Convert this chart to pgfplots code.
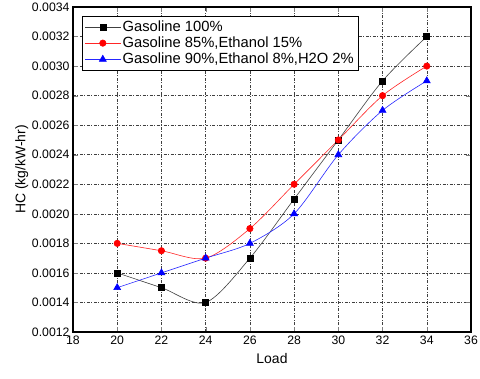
\documentclass[border=0pt]{standalone}
\usepackage{fontspec}
\setmainfont{Liberation Sans}
\usepackage{pgfplots}
\pgfplotsset{compat=1.18}

\begin{document}
\begin{tikzpicture}
\useasboundingbox (-73bp,-47bp) rectangle (407bp,332bp);
\begin{axis}[
  scale only axis,
  width=398bp, height=325bp,
  xmin=18, xmax=36, ymin=0.0012, ymax=0.0034,
  xtick={18,20,...,36},
  ytick={0.0012,0.0014,...,0.00341},
  scaled y ticks=false,
  yticklabel style={/pgf/number format/.cd,fixed,fixed zerofill,precision=4},
  /pgf/number format/assume math mode=true,
  tick label style={font=\fontsize{12.3}{14}\selectfont},
  label style={font=\fontsize{14}{16}\selectfont},
  xlabel={Load}, ylabel={HC (kg/kW-hr)},
  xlabel style={yshift=-2bp},
  ylabel style={yshift=-3bp},
  tick align=inside, major tick length=5bp,
  axis line style={line width=1.2pt},
  grid=major,
  major grid style={black!75, line width=0.5pt, dash pattern=on 3pt off 1.5pt on 1pt off 1.5pt},
  legend cell align=left,
  legend style={at={(0.023,0.972)}, anchor=north west, draw=black, line width=0.6pt,
    font=\fontsize{14.8}{17}\selectfont, row sep=0pt, inner sep=2.5pt},
  legend image code/.code={\draw[mark repeat=2,mark phase=2,#1] plot coordinates {(0cm,0cm) (0.62cm,0cm) (1.24cm,0cm)};},
]
\addplot[black!75, line width=0.6pt, smooth, tension=0.5, mark=square*, mark size=3bp, mark options={fill=black,draw=black,solid}]
  coordinates {(20,0.0016) (22,0.0015) (24,0.0014) (26,0.0017) (28,0.0021) (30,0.0025) (32,0.0029) (34,0.0032)};
\addlegendentry{Gasoline 100\%}
\addplot[red!85, line width=0.6pt, smooth, tension=0.5, mark=*, mark size=3.2bp, mark options={fill=red,draw=red,solid}]
  coordinates {(20,0.0018) (22,0.00175) (24,0.0017) (26,0.0019) (28,0.0022) (30,0.0025) (32,0.0028) (34,0.0030)};
\addlegendentry{Gasoline 85\%,Ethanol 15\%}
\addplot[blue!85, line width=0.6pt, smooth, tension=0.5, mark=triangle*, mark size=4bp, mark options={fill=blue,draw=blue,solid}]
  coordinates {(20,0.0015) (22,0.0016) (24,0.0017) (26,0.0018) (28,0.0020) (30,0.0024) (32,0.0027) (34,0.0029)};
\addlegendentry{Gasoline 90\%,Ethanol 8\%,H2O 2\%}
\end{axis}
\end{tikzpicture}
\end{document}
